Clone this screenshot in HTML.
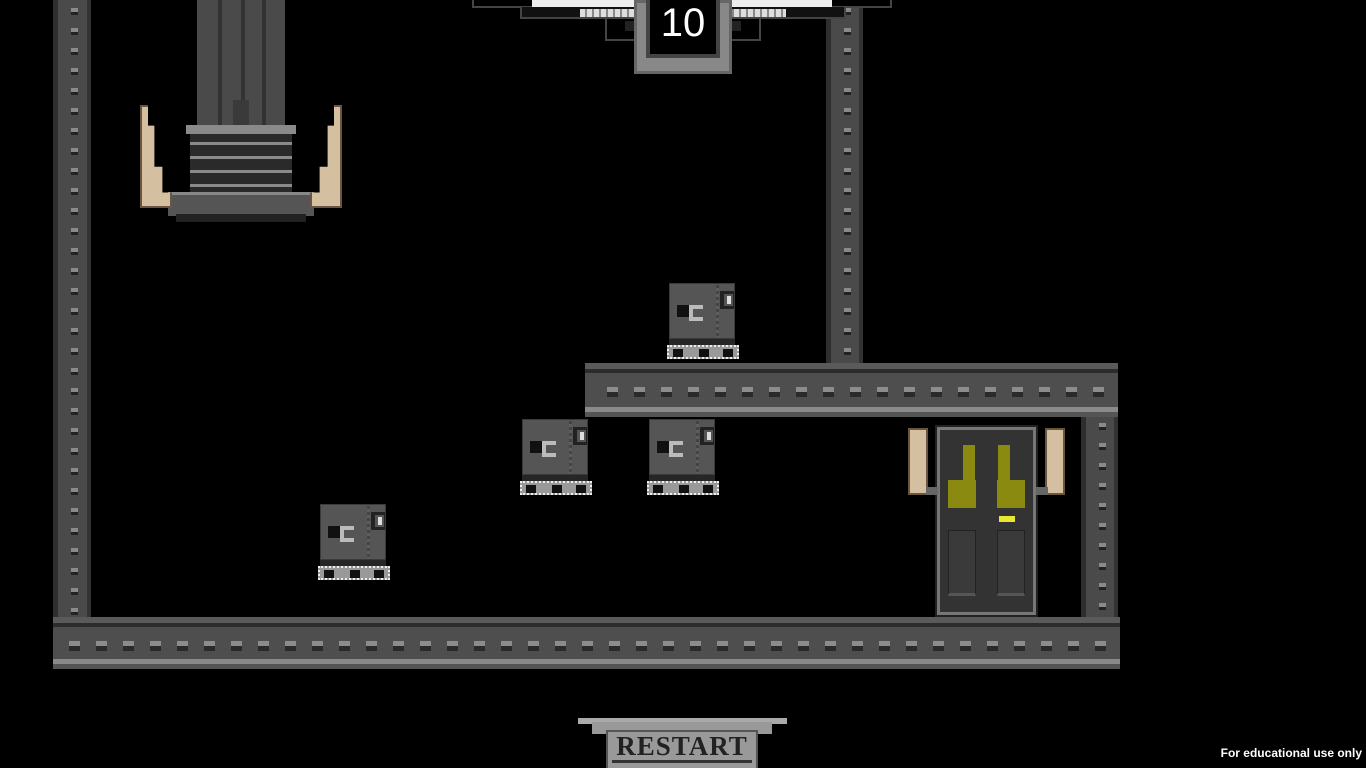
<!DOCTYPE html>
<html><head><meta charset="utf-8"><style>
html,body{margin:0;padding:0;background:#000;width:1366px;height:768px;overflow:hidden;position:relative;font-family:"Liberation Sans",sans-serif}
div{position:absolute;box-sizing:border-box}
.hg{background:#4e4e4e;border-top:6px solid #5a5a5a;border-bottom:5px solid #555}
.hg .dk{left:0;right:0;top:0;height:4px;background:#2c2c2c}
.hg .lt{left:0;right:0;bottom:0;height:5px;background:#8a8a8a}
.hg .d1{left:0;right:0;height:5px;background:repeating-linear-gradient(90deg,transparent 0 16px,#8c8c8c 16px 27px,transparent 27px 26.6px)}
.hg .d2{left:0;right:0;height:5px;background:repeating-linear-gradient(90deg,transparent 0 16px,#2a2a2a 16px 27px,transparent 27px 26.6px)}
.vg{background:#4a4a4a;border-left:5px solid #2e2e2e;border-right:4px solid #333}
.vg .dots{left:13px;width:7px;top:0;bottom:0;background:repeating-linear-gradient(180deg,transparent 0 8px,#8a8a8a 8px 12px,#222 12px 15px,transparent 15px 20px)}
.rob .b{left:2px;top:0;width:66px;height:56px;background:#555;border:1px solid #3a3a3a}
.rob .sep{left:49px;top:2px;width:3px;height:52px;background:repeating-linear-gradient(180deg,#444 0 3px,#5e5e5e 3px 6px)}
.rob .eye{left:53px;top:8px;width:14px;height:18px;background:#222}
.rob .eye2{left:57px;top:11px;width:9px;height:12px;background:#ddd;border:2px solid #555;border-left-width:3px}
.rob .c1{left:10px;top:22px;width:12px;height:12px;background:#111}
.rob .c2{left:22px;top:22px;width:14px;height:16px;border:4px solid #bbb;border-right:none;background:#555}
.rob .bar{left:2px;top:56px;width:66px;height:6px;background:#262626}
.rob .t{left:0;top:62px;width:72px;height:14px;background:#999;border:2px dotted #eee}
.rob .t i{position:absolute;top:2px;width:10px;height:8px;background:#111}
</style></head><body>

<div class="vg" style="left:53px;top:0;width:38px;height:620px"><div class="dots"></div></div>
<div class="vg" style="left:826px;top:0;width:37px;height:366px"><div class="dots"></div></div>
<div class="vg" style="left:1081px;top:415px;width:37px;height:205px"><div class="dots"></div></div>

<div class="hg" style="left:53px;top:617px;width:1067px;height:52px">
 <div class="dk"></div><div class="d1" style="top:18px"></div><div class="d2" style="top:23px"></div><div class="lt"></div>
</div>
<div class="hg" style="left:585px;top:363px;width:533px;height:54px">
 <div class="dk"></div><div class="d1" style="top:18px;left:6px"></div><div class="d2" style="top:23px;left:6px"></div><div class="lt"></div>
</div>

<div style="left:197px;top:0;width:88px;height:130px;background:#4a4a4a"></div>
<div style="left:218px;top:0;width:4px;height:125px;background:#333"></div>
<div style="left:241px;top:0;width:4px;height:125px;background:#333"></div>
<div style="left:262px;top:0;width:4px;height:125px;background:#333"></div>
<div style="left:233px;top:100px;width:16px;height:28px;background:#3a3a3a"></div>
<div style="left:186px;top:125px;width:110px;height:9px;background:#8a8a8a"></div>
<div style="left:190px;top:134px;width:102px;height:58px;background:#333;background-image:repeating-linear-gradient(180deg,#2a2a2a 0 8px,#8a8a8a 8px 11px,#2a2a2a 11px 14px)"></div>
<div style="left:168px;top:192px;width:146px;height:24px;background:#555;border-top:3px solid #888"></div>
<div style="left:176px;top:214px;width:130px;height:8px;background:#222"></div>
<div style="left:140px;top:105px;width:32px;height:103px;background:#d4bfa0;border:2px solid #6a5540;clip-path:polygon(0 0,25% 0,25% 20%,45% 20%,45% 60%,70% 60%,70% 85%,100% 85%,100% 100%,0 100%)"></div>
<div style="left:310px;top:105px;width:32px;height:103px;background:#d4bfa0;border:2px solid #6a5540;clip-path:polygon(75% 0,100% 0,100% 100%,0 100%,0 85%,30% 85%,30% 60%,55% 60%,55% 20%,75% 20%)"></div>

<div style="left:472px;top:0;width:420px;height:8px;background:#000;border:2px solid #444;border-top:none"></div>
<div style="left:532px;top:0;width:300px;height:7px;background:#eee"></div>
<div style="left:520px;top:7px;width:326px;height:12px;background:#111;border:2px solid #444;border-top:none"></div>
<div style="left:580px;top:9px;width:206px;height:8px;background:repeating-linear-gradient(90deg,#ddd 0 5px,#888 5px 7px)"></div>
<div style="left:605px;top:19px;width:156px;height:22px;border:2px solid #444;border-top:none;background:#000"></div>
<div style="left:625px;top:21px;width:116px;height:10px;background:#222"></div>
<div style="left:634px;top:0;width:98px;height:74px;background:#888;border:3px solid #666"></div>
<div style="left:646px;top:0;width:74px;height:58px;background:#000;border:4px solid #444;border-top:none"></div>
<div style="left:646px;top:0;width:74px;height:54px;color:#fff;font-size:40px;text-align:center;line-height:46px">10</div>

<div class="rob" style="left:667px;top:283px;width:72px;height:78px"><div class="b"></div><div class="sep"></div><div class="eye"></div><div class="eye2"></div><div class="c1"></div><div class="c2"></div><div class="bar"></div><div class="t"><i style="left:4px"></i><i style="left:30px"></i><i style="left:54px"></i></div></div>
<div class="rob" style="left:520px;top:419px;width:72px;height:78px"><div class="b"></div><div class="sep"></div><div class="eye"></div><div class="eye2"></div><div class="c1"></div><div class="c2"></div><div class="bar"></div><div class="t"><i style="left:4px"></i><i style="left:30px"></i><i style="left:54px"></i></div></div>
<div class="rob" style="left:647px;top:419px;width:72px;height:78px"><div class="b"></div><div class="sep"></div><div class="eye"></div><div class="eye2"></div><div class="c1"></div><div class="c2"></div><div class="bar"></div><div class="t"><i style="left:4px"></i><i style="left:30px"></i><i style="left:54px"></i></div></div>
<div class="rob" style="left:318px;top:504px;width:72px;height:78px"><div class="b"></div><div class="sep"></div><div class="eye"></div><div class="eye2"></div><div class="c1"></div><div class="c2"></div><div class="bar"></div><div class="t"><i style="left:4px"></i><i style="left:30px"></i><i style="left:54px"></i></div></div>

<div style="left:937px;top:427px;width:99px;height:188px;background:#333;border:3px solid #777;outline:2px solid #222"></div>
<div style="left:948px;top:480px;width:28px;height:28px;background:#8a8a10"></div>
<div style="left:997px;top:480px;width:28px;height:28px;background:#8a8a10"></div>
<div style="left:963px;top:445px;width:12px;height:36px;background:#8a8a10"></div>
<div style="left:998px;top:445px;width:12px;height:36px;background:#8a8a10"></div>
<div style="left:999px;top:516px;width:16px;height:6px;background:#e8e830"></div>
<div style="left:948px;top:530px;width:28px;height:66px;background:#3a3a3a;border:1px solid #222;border-bottom:3px solid #555"></div>
<div style="left:997px;top:530px;width:28px;height:66px;background:#3a3a3a;border:1px solid #222;border-bottom:3px solid #555"></div>
<div style="left:908px;top:428px;width:20px;height:67px;background:#d4bfa0;border:2px solid #6a5540"></div>
<div style="left:926px;top:487px;width:12px;height:8px;background:#666"></div>
<div style="left:1045px;top:428px;width:20px;height:67px;background:#d4bfa0;border:2px solid #6a5540"></div>
<div style="left:1036px;top:487px;width:12px;height:8px;background:#666"></div>

<div style="left:578px;top:718px;width:209px;height:6px;background:#aaa"></div>
<div style="left:592px;top:722px;width:180px;height:12px;background:#999"></div>
<div style="left:606px;top:730px;width:152px;height:38px;background:#999;border:2px solid #555;border-bottom:none"></div>
<div style="left:606px;top:730px;width:152px;height:32px;color:#222;font-family:'Liberation Serif',serif;font-weight:bold;font-size:27px;text-align:center;line-height:32px;letter-spacing:1px">RESTART</div>
<div style="left:612px;top:760px;width:140px;height:3px;background:#333"></div>

<div style="right:4px;top:746px;color:#fff;font-size:12px;font-weight:bold">For educational use only</div>
</body></html>
